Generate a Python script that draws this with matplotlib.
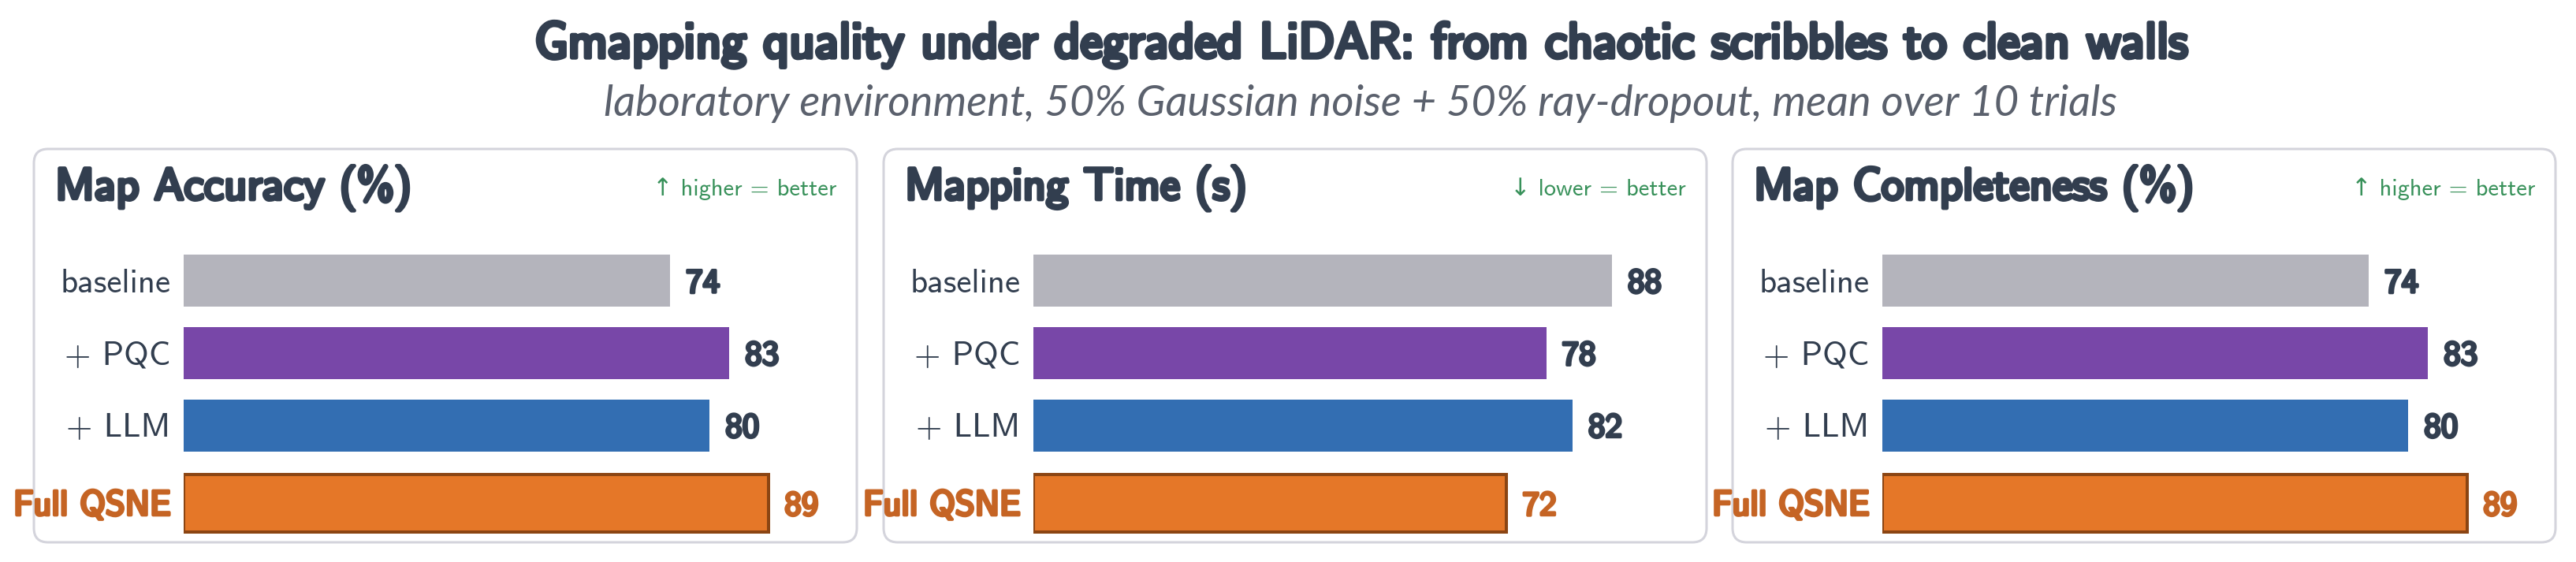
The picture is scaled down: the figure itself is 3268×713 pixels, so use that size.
import numpy as np
import matplotlib
matplotlib.use('Agg')
import matplotlib.pyplot as plt
import matplotlib.patheffects as pe
from matplotlib.patches import FancyBboxPatch

categories = ['baseline', '+ PQC', '+ LLM', 'Full QSNE']
accuracy = [74, 83, 80, 89]
mapping_time = [88, 78, 82, 72]
completeness = [74, 83, 80, 89]
panel_values = [accuracy, mapping_time, completeness]
panel_titles = ['Map Accuracy (%)', 'Mapping Time (s)', 'Map Completeness (%)']
panel_notes = ['\u2191 higher = better', '\u2193 lower = better', '\u2191 higher = better']
bar_colors = ['#b4b4bc', '#7847a8', '#336eb2', '#e57728']

title = 'Gmapping quality under degraded LiDAR: from chaotic scribbles to clean walls'
subtitle = 'laboratory environment, 50% Gaussian noise + 50% ray-dropout, mean over 10 trials'

DARK = '#323e4f'
GREEN = '#38915a'
ORANGE = '#c56424'

plt.rcParams['font.family'] = ['cmss10', 'DejaVu Sans']
plt.rcParams['axes.unicode_minus'] = False

def bold(c, w=1.1):
    return [pe.withStroke(linewidth=w, foreground=c)]

W, H = 3268, 713
DPI = 200
fig = plt.figure(figsize=(W / DPI, H / DPI), dpi=DPI)

# pixel-space background axes for titles and panel frames
bg = fig.add_axes([0, 0, 1, 1])
bg.set_xlim(0, W)
bg.set_ylim(H, 0)
bg.axis('off')

title_x = 1726
bg.text(title_x, 73, title, ha='center', va='baseline', fontsize=22.9,
        color=DARK, path_effects=bold(DARK, 1.9))
bg.text(title_x, 147, subtitle, ha='center', va='baseline', fontsize=19.6,
        family=['Lato', 'DejaVu Sans'], style='italic', color='#5b616d')

box_left = [43, 1121, 2198]
box_w = 1044
box_top, box_bot = 189, 688
px_per_unit = 8.34
cat_step = 91.7
first_center = 356.3

n = len(categories)
ypos = np.arange(n) + np.array([0, 0, 0, 0.08])
heights = [0.72, 0.72, 0.72, 0.8]

for i in range(3):
    x0 = box_left[i]
    bg.add_patch(FancyBboxPatch((x0, box_top), box_w, box_bot - box_top,
                                boxstyle='round,pad=0,rounding_size=18',
                                lw=1.1, ec='#d4d4dc', fc='white'))
    bg.text(x0 + 27, 253, panel_titles[i], ha='left', va='baseline',
            fontsize=20.5, color=DARK, path_effects=bold(DARK, 1.7))
    bg.text(x0 + box_w - 26, 248, panel_notes[i], ha='right', va='baseline',
            fontsize=11, color=GREEN)

    ax_left = x0 + 190
    ax_right = x0 + box_w - 5
    ax_top = first_center - 0.5 * cat_step
    ax_bot = ax_top + 4.2 * cat_step
    ax = fig.add_axes([ax_left / W, 1 - ax_bot / H, (ax_right - ax_left) / W,
                       (ax_bot - ax_top) / H])
    ax.set_xlim(0, (ax_right - ax_left) / px_per_unit)
    ax.set_ylim(3.7, -0.5)
    ax.axis('off')

    vals = panel_values[i]
    for j in range(n):
        full = j == n - 1
        ax.barh(ypos[j], vals[j], height=heights[j], color=bar_colors[j],
                edgecolor='#8b4513' if full else 'none', linewidth=1.45 if full else 0)
        tc = ORANGE if full else DARK
        ax.text(-2.0, ypos[j] + 0.16, categories[j], ha='right', va='baseline',
                fontsize=16 if full else 15.5, color=tc, clip_on=False,
                path_effects=bold(tc, 1.4) if full else None)
        ax.text(vals[j] + 2.4, ypos[j] + 0.16, str(vals[j]), ha='left', va='baseline',
                fontsize=15.5, color=tc, clip_on=False, path_effects=bold(tc, 1.3))

fig.savefig('out.png', dpi=DPI)
